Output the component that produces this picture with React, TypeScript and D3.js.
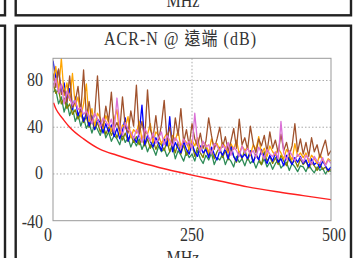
import React from 'react';
import * as d3 from 'd3';

// frequency grid (MHz), 5 MHz step
const FREQS: number[] = d3.range(0, 500.01, 5);

const BROWN = [
  86, 74, 90, 68, 72, 61, 84, 57, 62, 75,
  53, 89, 49, 62, 44, 51, 84, 46, 40, 58,
  45, 70, 39, 44, 37, 66, 40, 35, 54, 41,
  76, 34, 45, 30, 72, 38, 31, 50, 29, 42,
  63, 29, 40, 25, 48, 33, 56, 27, 38, 24,
  43, 30, 24, 35, 22, 28, 48, 33, 21, 30,
  40, 23, 32, 20, 28, 39, 22, 47, 25, 31,
  21, 41, 26, 18, 30, 24, 33, 19, 36, 22,
  29, 18, 34, 20, 27, 16, 24, 43, 19, 30,
  17, 27, 15, 31, 19, 25, 14, 22, 29, 16,
  20,
];
const ORANGE = [
  80, 92, 71, 99, 67, 78, 63, 86, 58, 66,
  49, 60, 77, 45, 56, 41, 52, 48, 39, 50,
  44, 36, 47, 55, 34, 42, 40, 49, 31, 38,
  35, 45, 29, 37, 34, 43, 27, 36, 33, 26,
  31, 35, 24, 33, 29, 37, 23, 30, 27, 21,
  29, 24, 31, 20, 27, 25, 18, 30, 23, 26,
  20, 27, 23, 18, 26, 21, 29, 17, 24, 20,
  23, 16, 25, 21, 32, 17, 22, 15, 24, 19,
  16, 22, 18, 13, 21, 17, 12, 26, 15, 18,
  14, 18, 10, 16, 13, 9, 17, 12, 8, 13,
  11,
];
const VIOLET = [
  74, 82, 69, 77, 60, 71, 65, 59, 63, 55,
  57, 51, 54, 49, 43, 52, 47, 40, 48, 45,
  41, 47, 36, 65, 42, 33, 44, 38, 36, 30,
  38, 33, 27, 39, 34, 28, 35, 26, 31, 36,
  25, 33, 29, 24, 31, 27, 22, 30, 25, 28,
  22, 52, 26, 19, 28, 23, 25, 17, 26, 24,
  19, 25, 21, 27, 16, 23, 20, 15, 24, 18,
  22, 17, 20, 14, 23, 18, 13, 21, 17, 15,
  19, 13, 45, 18, 12, 20, 16, 11, 17, 14,
  10, 16, 13, 8, 15, 11, 9, 14, 7, 12,
  9,
];
const BLUE = [
  97, 82, 89, 70, 78, 62, 73, 55, 66, 50,
  56, 45, 52, 41, 50, 38, 47, 44, 35, 43,
  36, 42, 32, 39, 30, 37, 48, 28, 35, 31,
  27, 35, 59, 25, 33, 28, 23, 31, 26, 20,
  30, 24, 49, 19, 27, 22, 18, 28, 21, 17,
  26, 19, 15, 24, 18, 21, 14, 23, 17, 12,
  20, 16, 22, 13, 25, 15, 11, 19, 14, 17,
  13, 20, 10, 16, 12, 21, 14, 9, 16, 11,
  18, 10, 13, 7, 16, 12, 8, 14, 10, 15,
  9, 12, 6, 13, 8, 10, 5, 11, 7, 3,
  6,
];
const OLIVE = [
  78, 69, 72, 60, 65, 56, 60, 51, 55, 47,
  52, 44, 49, 40, 46, 38, 44, 36, 42, 34,
  40, 33, 38, 31, 37, 29, 35, 28, 34, 27,
  32, 25, 31, 24, 30, 22, 29, 21, 27, 25,
  20, 28, 19, 26, 18, 27, 17, 25, 16, 22,
  27, 15, 23, 18, 14, 24, 16, 21, 13, 19,
  23, 14, 20, 12, 22, 15, 10, 19, 13, 21,
  12, 18, 10, 17, 13, 8, 19, 11, 15, 9,
  14, 8, 16, 11, 7, 15, 9, 12, 6, 13,
  8, 11, 5, 10, 7, 3, 9, 4, 6, 2,
  4,
];
const GREEN = [
  70, 72, 60, 66, 53, 61, 50, 57, 45, 51,
  41, 48, 39, 44, 35, 43, 38, 33, 41, 31,
  36, 28, 33, 30, 25, 34, 27, 31, 23, 29,
  24, 30, 21, 27, 19, 25, 22, 16, 24, 19,
  22, 15, 19, 24, 13, 20, 16, 11, 19, 14,
  17, 11, 20, 13, 9, 16, 12, 18, 8, 14,
  12, 17, 8, 14, 11, 6, 15, 10, 13, 7,
  14, 9, 12, 5, 11, 8, 13, 6, 10, 4,
  9, 12, 5, 8, 10, 3, 9, 6, 2, 7,
  6, 2, 8, 4, 1, 6, 3, 5, 0, 4,
  2,
];

// limit line
const LIMIT_F = [1, 5, 10, 18, 30, 55, 85, 115, 156, 204, 250, 300, 350, 400, 450, 500];
const LIMIT_DB = [61, 56, 52, 47, 40, 30, 21, 16, 10, 4, -1, -6, -11, -15, -18.5, -22];

const Y_TICKS = [-40, 0, 40, 80];
const X_TICKS = [0, 250, 500];

const SERIES = [
  { name: 'green', color: '#2e8b57', values: GREEN },
  { name: 'olive', color: '#808000', values: OLIVE },
  { name: 'blue', color: '#0000ff', values: BLUE },
  { name: 'orange', color: '#ffa500', values: ORANGE },
  { name: 'brown', color: '#a0522d', values: BROWN },
  { name: 'violet', color: '#da70d6', values: VIOLET },
];

const W = 353;
const H = 258;
const FONT = '"Liberation Serif", "DejaVu Serif", "Noto Sans CJK TC", serif';

// text slightly stretched vertically like the source image
const T: React.FC<{ x: number; y: number; anchor?: string; size?: number; len?: number; children: React.ReactNode }> =
  ({ x, y, anchor = 'middle', size = 16, len, children }) => (
    <text transform={`translate(${x},${y}) scale(1,1.15)`} textAnchor={anchor} fontSize={size}
      textLength={len} lengthAdjust={len ? 'spacing' : undefined}
      fill="#333" style={{ fontFamily: FONT }}>{children}</text>
  );

const App: React.FC = () => {
  const x = d3.scaleLinear().domain([0, 500]).range([53, 331]);
  const y = d3.scaleLinear().domain([-40, 99]).range([220.7, 58.3]);

  const line = d3.line<[number, number]>()
    .x(d => x(d[0]))
    .y(d => y(d[1]));
  const limitLine = d3.line<[number, number]>()
    .x(d => x(d[0]))
    .y(d => y(d[1]))
    .curve(d3.curveMonotoneX);

  const [x0, x1] = x.range();
  const [yb, yt] = y.range();
  const border = '#222';

  return (
    <div style={{ position: 'absolute', left: 0, top: 0 }}>
      <svg width={W} height={H} style={{ display: 'block', background: '#fff' }}>
        {/* neighbouring panels */}
        <rect x={-100} y={-100} width={105} height={115.3} fill="none" stroke={border} strokeWidth={2.4} />
        <rect x={15.7} y={-100} width={335.3} height={115.3} fill="none" stroke={border} strokeWidth={2.4} />
        <rect x={-100} y={25.7} width={105} height={300} fill="none" stroke={border} strokeWidth={2.4} />
        <rect x={15.7} y={25.7} width={335.3} height={300} fill="none" stroke={border} strokeWidth={2.4} />
        <T x={183} y={7}>MHz</T>

        {/* title */}
        <T x={180} y={45} len={152}>ACR-N @ 遠端 (dB)</T>

        <defs>
          <clipPath id="plot-clip">
            <rect x={x0} y={yt} width={x1 - x0} height={yb - yt} />
          </clipPath>
        </defs>

        {/* grid */}
        {Y_TICKS.filter(t => t > -40).map(t => (
          <line key={'gy' + t} x1={x0} x2={x1} y1={y(t)} y2={y(t)} stroke="#aaa" strokeDasharray="1.5,2" />
        ))}
        <line x1={x(250)} x2={x(250)} y1={yt} y2={yb} stroke="#aaa" strokeDasharray="1.5,2" />

        {/* series */}
        <g clipPath="url(#plot-clip)" fill="none">
          {SERIES.map(s => (
            <path key={s.name}
              d={line(FREQS.map((f, i) => [f, s.values[i]] as [number, number])) || ''}
              stroke={s.color} strokeWidth={1.3} strokeLinejoin="round" />
          ))}
          <path d={limitLine(LIMIT_F.map((f, i) => [f, LIMIT_DB[i]] as [number, number])) || ''}
            stroke="#ff2020" strokeWidth={1.4} />
        </g>

        {/* frame */}
        <rect x={x0} y={yt} width={x1 - x0} height={yb - yt} fill="none" stroke="#999" strokeWidth={1} />

        {/* tick labels */}
        {Y_TICKS.map(t => (
          <T key={'ty' + t} x={x0 - 10} y={y(t) + (t === -40 ? 7.5 : 5.5)} anchor="end">{t}</T>
        ))}
        {X_TICKS.map((t, i) => (
          <T key={'tx' + t} x={x(t) + (i === 0 ? -5 : i === X_TICKS.length - 1 ? 3 : 0)} y={241}>{t}</T>
        ))}
        <T x={183} y={264}>MHz</T>
      </svg>
    </div>
  );
};

export default App;
